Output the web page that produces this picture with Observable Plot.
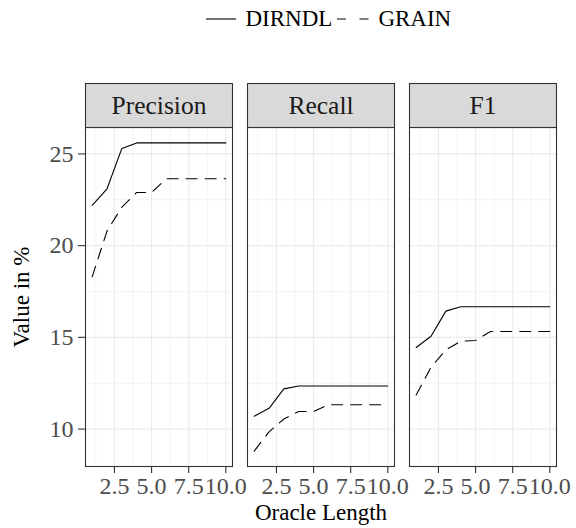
<!DOCTYPE html>
<html><head><meta charset="utf-8">
<script src="https://cdn.jsdelivr.net/npm/d3@7"></script>
<script src="https://cdn.jsdelivr.net/npm/@observablehq/plot@0.6"></script>
<style>
body{margin:0;background:#fff;font-family:"Liberation Serif","Times New Roman",Tinos,"DejaVu Serif",serif;}
#legend{height:38px;display:flex;align-items:center;padding-left:206px;font-size:23px;color:#000;}
#legend svg{display:block}
</style></head><body>
<div id="legend"></div>
<div id="chart"></div>
<script>
// ---- data ----
const metrics = ["Precision", "Recall", "F1"];
const systems = ["DIRNDL", "GRAIN"];
const oracleLength = [1, 2, 3, 4, 5, 6, 7, 8, 9, 10];
const precisionDIRNDL = [22.2, 23.1, 25.3, 25.6, 25.6, 25.6, 25.6, 25.6, 25.6, 25.6];
const precisionGRAIN  = [18.3, 20.8, 22.1, 22.9, 22.9, 23.65, 23.65, 23.65, 23.65, 23.65];
const recallDIRNDL    = [10.7, 11.13, 12.19, 12.35, 12.35, 12.35, 12.35, 12.35, 12.35, 12.35];
const recallGRAIN     = [8.8, 9.85, 10.55, 10.96, 10.96, 11.33, 11.33, 11.33, 11.33, 11.33];
const f1DIRNDL        = [14.45, 15.06, 16.43, 16.67, 16.67, 16.67, 16.67, 16.67, 16.67, 16.67];
const f1GRAIN         = [11.86, 13.37, 14.32, 14.79, 14.83, 15.32, 15.32, 15.32, 15.32, 15.32];
const xTicks = [2.5, 5, 7.5, 10];
const xMinor = [1.25, 3.75, 6.25, 8.75];
const yTicks = [10, 15, 20, 25];
const yMinor = [12.5, 17.5, 22.5];
const xTitle = "Oracle Length";
const yTitle = "Value in %";

// ---- styles ----
const FONT = '"Liberation Serif","Times New Roman",Tinos,"DejaVu Serif",serif';
const dash = {DIRNDL: null, GRAIN: "11,8"};
const legendDash = {DIRNDL: null, GRAIN: "9,13.5"};

const series = {
  Precision: {DIRNDL: precisionDIRNDL, GRAIN: precisionGRAIN},
  Recall: {DIRNDL: recallDIRNDL, GRAIN: recallGRAIN},
  F1: {DIRNDL: f1DIRNDL, GRAIN: f1GRAIN}
};
const rows = metrics.flatMap(m => systems.flatMap(s =>
  oracleLength.map((len, i) => ({metric: m, system: s, len, value: series[m][s][i]}))));

const expand = ([lo, hi]) => { const p = (hi - lo) * 0.05; return [lo - p, hi + p]; };
const xDomain = expand(d3.extent(oracleLength));
const yDomain = expand(d3.extent(rows, d => d.value));

// ---- legend ----
const legend = d3.select("#legend");
systems.forEach((s, i) => {
  const w = i === 0 ? 30 : 31.5;
  const sv = legend.append("svg").attr("width", w).attr("height", 10)
    .style("margin-left", i === 0 ? "0px" : "5px");
  sv.append("line").attr("x1", 0).attr("x2", w).attr("y1", 5).attr("y2", 5)
    .attr("stroke", "#000").attr("stroke-width", 1.1)
    .attr("stroke-dasharray", legendDash[s]);
  legend.append("span").text(s).style("margin-left", "9.5px");
});

// ---- chart ----
const W = 576, H = 490, mL = 84, mR = 18, mT = 89, mB = 62, stripH = 44;
const panelH = H - mT - mB;
const grid = "#ebebeb";
const chart = Plot.plot({
  width: W, height: H,
  marginLeft: mL, marginRight: mR, marginTop: mT, marginBottom: mB,
  style: {fontFamily: FONT, fontSize: "22px", background: "#fff", color: "#000"},
  fx: {domain: metrics, paddingInner: 0.092, paddingOuter: 0, axis: null, label: null},
  x: {domain: xDomain},
  y: {domain: yDomain},
  marks: [
    Plot.ruleX(xMinor, {stroke: grid, strokeWidth: 0.6}),
    Plot.ruleY(yMinor, {stroke: grid, strokeWidth: 0.6}),
    Plot.ruleX(xTicks, {stroke: grid, strokeWidth: 1.1}),
    Plot.ruleY(yTicks, {stroke: grid, strokeWidth: 1.1}),
    ...systems.map(s => Plot.line(rows.filter(d => d.system === s), {
      x: "len", y: "value", fx: "metric", stroke: "#000", strokeWidth: 1.1,
      strokeDasharray: dash[s]
    })),
    Plot.frame({stroke: "#333", strokeWidth: 1.1}),
    Plot.frame({fill: "#d9d9d9", stroke: "#333", strokeWidth: 1.1, insetTop: -stripH, insetBottom: panelH}),
    Plot.text(metrics, {fx: d => d, text: d => d, frameAnchor: "top", dy: -stripH / 2,
      lineAnchor: "middle", textAnchor: "middle", fontSize: 25.5, fill: "#1a1a1a"}),
    Plot.axisX({ticks: xTicks, tickFormat: d3.format(".1f"), tickSize: 7, tickPadding: 3, fontSize: 24,
      stroke: "#333", fill: "#4d4d4d", strokeWidth: 1.1, label: null}),
    Plot.axisY({ticks: yTicks, tickSize: 7, tickPadding: 5, fontSize: 24,
      stroke: "#333", fill: "#4d4d4d", strokeWidth: 1.1, label: null}),
    Plot.text([xTitle], {fx: () => "Recall", text: d => d, frameAnchor: "bottom", dy: 46,
      lineAnchor: "middle", textAnchor: "middle", fontSize: 23, fill: "#000"}),
    Plot.text([yTitle], {fx: () => "Precision", text: d => d, frameAnchor: "left", dx: -64, rotate: -90,
      lineAnchor: "middle", textAnchor: "middle", fontSize: 23, fill: "#000"})
  ]
});
document.getElementById("chart").append(chart);
</script>
</body></html>
